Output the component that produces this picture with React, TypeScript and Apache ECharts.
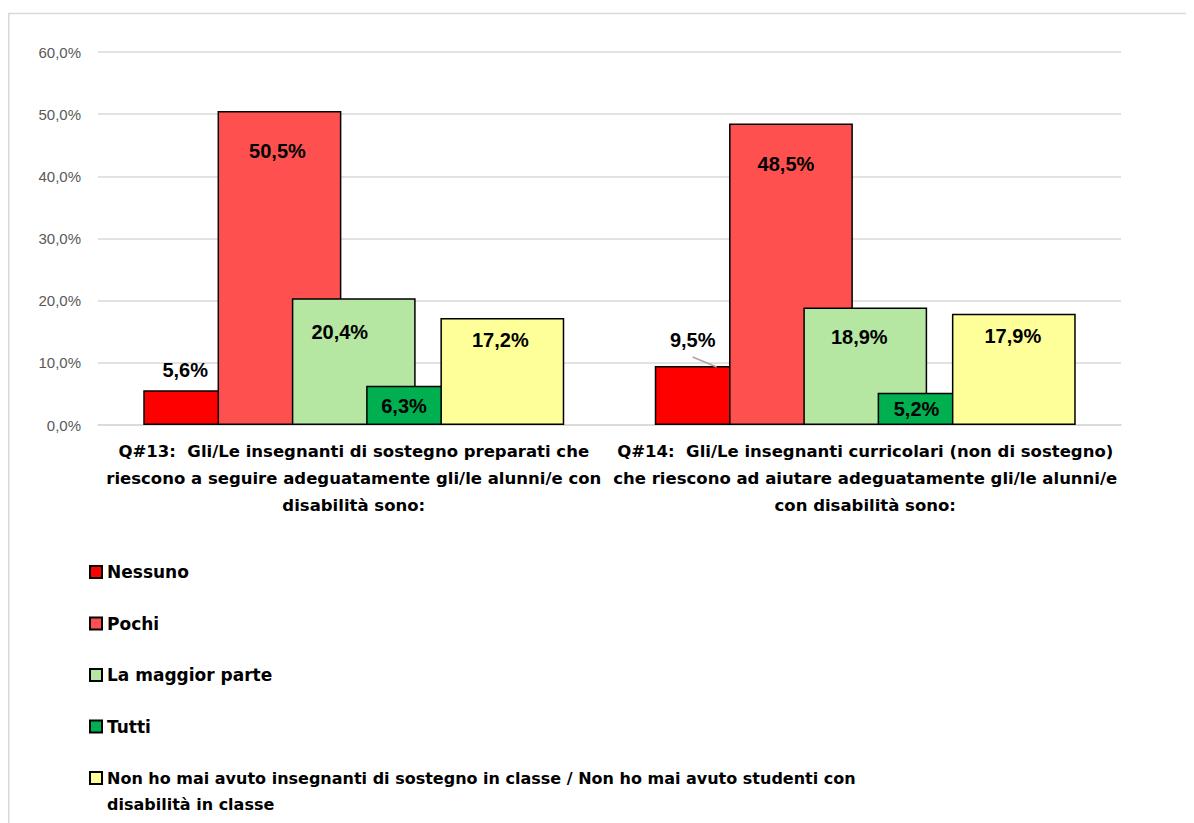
import React, { useEffect, useRef } from "react";
import * as echarts from "echarts";

const categories = [
  "Q#13:  Gli/Le insegnanti di sostegno preparati che\nriescono a seguire adeguatamente gli/le alunni/e con\ndisabilità sono:",
  "Q#14:  Gli/Le insegnanti curricolari (non di sostegno)\nche riescono ad aiutare adeguatamente gli/le alunni/e\ncon disabilità sono:",
];

const seriesNames = [
  "Nessuno",
  "Pochi",
  "La maggior parte",
  "Tutti",
  "Non ho mai avuto insegnanti di sostegno in classe / Non ho mai avuto studenti con\ndisabilità in classe",
];

const nessuno = [5.6, 9.5];
const pochi = [50.5, 48.5];
const maggiorParte = [20.4, 18.9];
const tutti = [6.3, 5.2];
const maiAvuto = [17.2, 17.9];

const yMin = 0;
const yMax = 60;
const yStep = 10;

const seriesValues = [nessuno, pochi, maggiorParte, tutti, maiAvuto];
const seriesColors = ["#FF0000", "#FF5050", "#B5E6A2", "#00B050", "#FFFF99"];

// label placement tweaks (pixels) per series, per category
const labelOffsets = [
  [[-20, -30], [-24, -36]],
  [[-2, 30], [-5, 31]],
  [[-14, 24], [-6, 19]],
  [[-24, 10], [-23, 6]],
  [[-2, 12], [-1, 12]],
];

const fmtPct = (v: number) => v.toFixed(1).replace(".", ",") + "%";

export default function App() {
  const ref = useRef<HTMLDivElement>(null);
  useEffect(() => {
    if (!ref.current) return;
    const chart = echarts.init(ref.current, null, { renderer: "svg" });
    const lineH = 26;
    const legendText = {
      fontFamily: "DejaVu Sans",
      fontWeight: "bold",
      fontSize: 17,
      color: "#000",
      lineHeight: lineH,
    };
    const legendCommon = {
      orient: "vertical",
      left: 76,
      height: 400,
      itemGap: 25.5,
      itemWidth: 12,
      itemHeight: 12,
      icon: "rect",
      textStyle: legendText,
    };
    const last = seriesNames.length - 1;
    const option: any = {
      animation: false,
      textStyle: { fontFamily: "DejaVu Sans" },
      graphic: [
        {
          id: "frame",
          type: "rect",
          x: 0.75,
          y: 5.5,
          shape: { x: 0, y: 0, width: 1400, height: 1200 },
          style: { fill: "none", stroke: "#d9d9d9", lineWidth: 1.5 },
          silent: true,
          z: -10,
        },
      ],
      grid: { left: 90, right: 73, top: 44, bottom: 398, containLabel: false },
      legend: [
        {
          ...legendCommon,
          top: 546,
          data: seriesNames.slice(0, last).map((n) => ({ name: n })),
        },
        {
          ...legendCommon,
          top: 752,
          itemHeight: 38,
          data: [
            {
              name: seriesNames[last],
              icon: "path://M0,0L12,0L12,12L0,12Z M0,38",
              textStyle: { fontSize: 16 },
            },
          ],
        },
      ],
      xAxis: {
        type: "category",
        data: categories,
        axisLine: { show: true, lineStyle: { color: "#d9d9d9", width: 1.5 } },
        axisTick: { show: false },
        axisLabel: {
          interval: 0,
          margin: 13,
          fontFamily: "DejaVu Sans",
          fontWeight: "bold",
          fontSize: 16.5,
          lineHeight: 27,
          color: "#000",
          align: "center",
        },
      },
      yAxis: {
        type: "value",
        min: yMin,
        max: yMax,
        interval: yStep,
        axisLine: { show: false },
        axisTick: { show: false },
        splitLine: { lineStyle: { color: "#d9d9d9", width: 1.5 } },
        axisLabel: {
          margin: 17,
          fontFamily: "Liberation Sans",
          fontSize: 15,
          color: "#595959",
          formatter: (v: number) => fmtPct(v),
        },
      },
      series: seriesNames.map((name, si) => ({
        type: "bar",
        name,
        barGap: "-40%",
        barCategoryGap: "17.7%",
        itemStyle: {
          color: seriesColors[si],
          borderColor: "#000",
          borderWidth: 1.5,
        },
        emphasis: { disabled: true },
        label: {
          show: true,
          position: "insideTop",
          distance: 0,
          fontFamily: "Liberation Sans",
          fontWeight: "bold",
          fontSize: 20,
          lineHeight: 20,
          color: "#000",
          formatter: (p: any) => fmtPct(p.value),
        },
        data: seriesValues[si].map((v, ci) => ({
          value: v,
          label: { offset: labelOffsets[si][ci] },
        })),
      })),
    };
    chart.setOption(option);

    // leader line from the moved "Nessuno" label of the 2nd category to its bar top
    try {
      const data = (chart as any).getModel().getSeriesByIndex(0).getData();
      const lay = data.getItemLayout(1);
      if (lay) {
        const cx = lay.x + lay.width / 2;
        const top = Math.min(lay.y, lay.y + lay.height);
        const [dx, dy] = labelOffsets[0][1];
        const sx = cx + dx;
        const sy = top + 10 + dy + 17;
        chart.setOption({
          graphic: [
            {
              id: "leader",
              type: "line",
              shape: { x1: sx, y1: sy, x2: cx, y2: top + 1 },
              style: { stroke: "#a6a6a6", lineWidth: 1.5 },
              silent: true,
              z: 10,
            },
          ],
        });
      }
    } catch (e) {
      // ignore
    }
    return () => chart.dispose();
  }, []);
  return <div ref={ref} style={{ width: 1186, height: 815 }} />;
}
